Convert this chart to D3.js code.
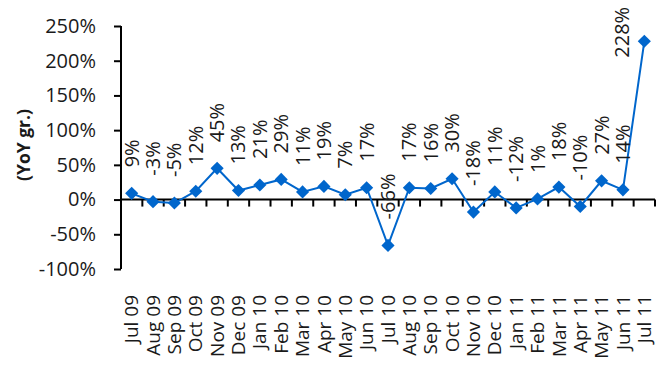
<!DOCTYPE html>
<html>
<head>
<meta charset="utf-8">
<script src="https://cdn.jsdelivr.net/npm/d3@7"></script>
<style>
  html, body { margin: 0; padding: 0; background: #fff; }
  svg { display: block; font-family: "Open Sans", "Noto Sans", sans-serif; }
</style>
</head>
<body>
<svg id="chart" width="668" height="375"></svg>
<script>
// Monthly year-on-year growth
const months = ["Jul 09","Aug 09","Sep 09","Oct 09","Nov 09","Dec 09","Jan 10","Feb 10","Mar 10","Apr 10",
  "May 10","Jun 10","Jul 10","Aug 10","Sep 10","Oct 10","Nov 10","Dec 10","Jan 11","Feb 11",
  "Mar 11","Apr 11","May 11","Jun 11","Jul 11"];
const growth = [9, -3, -5, 12, 45, 13, 21, 29, 11, 19, 7, 17, -66, 17, 16, 30, -18, 11, -12, 1, 18, -10, 27, 14, 228];
const yTicks = [-100, -50, 0, 50, 100, 150, 200, 250];
const axisTitle = "(YoY gr.)";

const blue = "#0066CC";
const svg = d3.select("#chart");

const x = d3.scaleBand().domain(months).range([121, 655]);
const y = d3.scaleLinear().domain([-100, 250]).range([269, 26]);
const cx = d => x(d) + x.bandwidth() / 2;

// Y axis
const yAxis = svg.append("g").attr("transform", "translate(121,0)")
  .call(d3.axisLeft(y).tickValues(yTicks).tickSize(7).tickPadding(18).tickFormat(d => d + "%"));
yAxis.select(".domain").attr("stroke", "#000").attr("stroke-width", 2).attr("d", "M0,26V269");
yAxis.selectAll(".tick line").attr("stroke", "#000").attr("stroke-width", 2);
yAxis.selectAll(".tick text").attr("font-size", 20).attr("fill", "#1a1a1a")
  .attr("font-family", "'Open Sans', sans-serif");

// X axis along zero, ticks at month boundaries
const xAxisG = svg.append("g").attr("transform", `translate(0,${y(0)})`);
xAxisG.append("line").attr("x1", 121).attr("x2", 655).attr("stroke", "#000").attr("stroke-width", 2);
const bounds = months.map(m => x(m) + x.bandwidth()).concat([x(months[0])]);
xAxisG.selectAll("line.tk").data(bounds).join("line").attr("class", "tk")
  .attr("x1", d => d).attr("x2", d => d).attr("y1", 0).attr("y2", 7)
  .attr("stroke", "#000").attr("stroke-width", 2);

// Category labels, rotated
svg.append("g").selectAll("text").data(months).join("text")
  .attr("transform", d => `translate(${cx(d)},295) rotate(-90)`)
  .attr("text-anchor", "end").attr("dy", "0.35em")
  .attr("font-size", 19).attr("fill", "#1a1a1a").text(d => d);

// Axis title
svg.append("text").attr("transform", "translate(24,145) rotate(-90)")
  .attr("text-anchor", "middle").attr("dy", "0.35em")
  .attr("font-size", 17.5).attr("font-weight", "bold").attr("fill", "#1a1a1a").text(axisTitle);

// Line and markers
const pts = months.map((m, i) => ({ m, v: growth[i] }));
svg.append("path").datum(pts)
  .attr("fill", "none").attr("stroke", blue).attr("stroke-width", 2)
  .attr("d", d3.line().x(d => cx(d.m)).y(d => y(d.v)));
svg.append("g").selectAll("path").data(pts).join("path")
  .attr("transform", d => `translate(${cx(d.m)},${y(d.v)})`)
  .attr("d", d3.symbol().type(d3.symbolDiamond2).size(110))
  .attr("fill", blue);

// Value labels, rotated, above each point
const labels = svg.append("g").selectAll("text").data(pts).join("text")
  .attr("font-size", 20).attr("fill", "#1a1a1a").attr("dy", "0.35em")
  .text(d => d.v + "%");
labels.each(function(d) {
  const t = d3.select(this);
  const len = this.getComputedTextLength();
  const px = cx(d.m), py = y(d.v);
  if (py - 26 - len < 0) {
    // not enough room above: put the label beside the point
    t.attr("text-anchor", "middle")
     .attr("transform", `translate(${px - 22},${py - 9}) rotate(-90)`);
  } else {
    t.attr("text-anchor", "start")
     .attr("transform", `translate(${px},${py - 26}) rotate(-90)`);
  }
});
</script>
</body>
</html>
